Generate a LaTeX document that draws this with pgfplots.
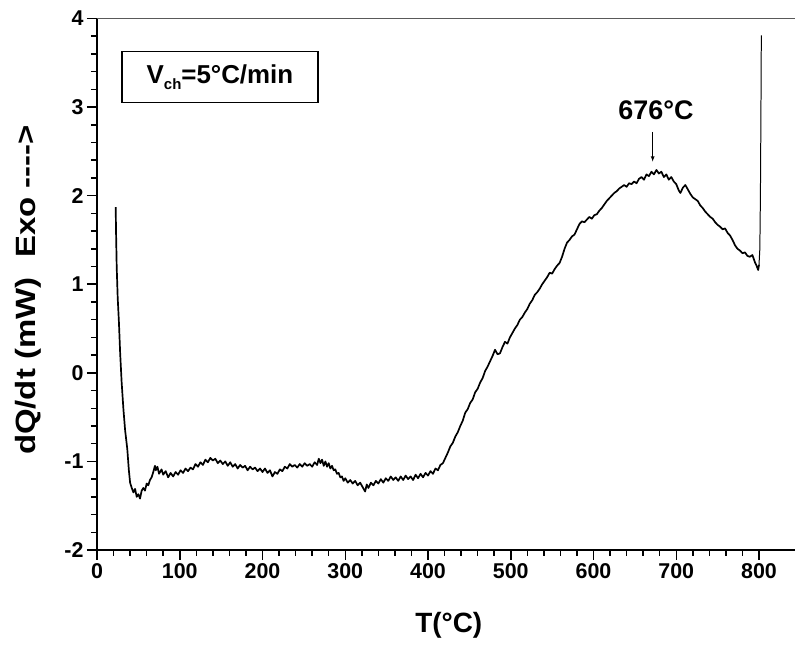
\documentclass[border=0pt]{standalone}
\usepackage{fontspec}
\setmainfont{Liberation Sans}
\usepackage{pgfplots}
\pgfplotsset{compat=1.18}
\begin{document}
\begin{tikzpicture}
\begin{axis}[
  scale only axis, width=698bp, height=531.5bp,
  xmin=0, xmax=843.5, ymin=-2, ymax=4,
  axis x line*=bottom, axis y line*=left,
  every inner x axis line/.append style={-},
  every outer x axis line/.append style={-},
  every inner y axis line/.append style={-},
  every outer y axis line/.append style={-},
  axis line style={line width=1.8bp, black},
  xtick distance=100, ytick distance=1,
  minor x tick num=4, minor y tick num=4,
  tick align=outside,
  major tick length=10bp, minor tick length=6bp,
  every tick/.style={black, line width=1.5bp},
  /pgf/number format/assume math mode=true,
  tick label style={font=\bfseries\fontsize{21.5}{24}\selectfont},
  xlabel={T(°C)},
  xlabel style={font=\bfseries\fontsize{28}{32}\selectfont, at={(axis description cs:0.504,-0.141)}, anchor=center},
  ylabel={\scalebox{1.18}[1]{dQ/dt (mW)\hspace{0.6em}Exo -{}-{}-{}-{}>}},
  ylabel style={font=\bfseries\fontsize{28}{32}\selectfont, at={(axis description cs:-0.099,0.489)}, anchor=center},
  clip=false,
]
\addplot[black, line width=1.7pt, line join=round] coordinates {
(22.6,1.87) (23.0,1.60) (23.8,1.20) (25,0.85) (26.5,0.57) (28,0.22) (29.8,-0.11)
(32,-0.42) (34,-0.65) (36.6,-0.86) (38.5,-1.10) (40,-1.24) (42,-1.30) (44,-1.35)
(46,-1.31) (48,-1.40) (50,-1.37) (52,-1.42) (54,-1.33) (56,-1.30) (58,-1.33)
(60,-1.25) (62,-1.27) (64,-1.21) (66,-1.18) (68,-1.12) (70,-1.05) (71,-1.10)
(73,-1.06) (75,-1.14) (78,-1.09) (80,-1.15) (83,-1.11) (86,-1.18) (89,-1.13)
(92,-1.17) (95,-1.12) (98,-1.15) (101,-1.10) (104,-1.13) (107,-1.08) (110,-1.11)
(113,-1.07) (116,-1.09) (119,-1.03) (122,-1.06) (125,-1.01) (128,-1.04) (131,-0.98)
(134,-1.01) (137,-0.96) (140,-0.99) (143,-0.97) (146,-1.02) (149,-0.99) (152,-1.03)
(155,-1.00) (158,-1.05) (161,-1.01) (164,-1.06) (167,-1.03) (170,-1.08) (173,-1.04)
(176,-1.07) (179,-1.05) (182,-1.10) (185,-1.06) (188,-1.09) (191,-1.07) (194,-1.11)
(197,-1.08) (200,-1.12) (203,-1.08) (206,-1.13) (209,-1.10) (212,-1.17) (215,-1.12)
(218,-1.14) (221,-1.09) (224,-1.11) (227,-1.06) (230,-1.08) (233,-1.03) (236,-1.06)
(239,-1.04) (242,-1.07) (245,-1.03) (248,-1.06) (251,-1.02) (254,-1.05) (257,-1.03)
(260,-1.06) (263,-1.01) (266,-1.04) (268,-0.97) (270,-1.02) (272,-0.98) (274,-1.05)
(276,-1.00) (278,-1.06) (280,-1.02) (282,-1.08) (284,-1.05) (286,-1.10) (288,-1.09)
(290,-1.14) (292,-1.13) (294,-1.18) (296,-1.17) (298,-1.22) (300,-1.19) (303,-1.24)
(306,-1.21) (309,-1.25) (312,-1.22) (315,-1.27) (318,-1.24) (321,-1.29) (324,-1.34)
(326,-1.26) (328,-1.30) (331,-1.24) (334,-1.27) (337,-1.22) (340,-1.25) (343,-1.20)
(346,-1.24) (349,-1.19) (352,-1.22) (355,-1.17) (358,-1.21) (361,-1.18) (364,-1.22)
(367,-1.17) (370,-1.21) (373,-1.16) (376,-1.20) (379,-1.17) (382,-1.21) (385,-1.15)
(388,-1.19) (391,-1.14) (394,-1.18) (397,-1.13) (400,-1.16) (403,-1.11) (406,-1.14)
(409,-1.08) (412,-1.10) (415,-1.04) (418,-1.02) (421,-0.96) (424,-0.90) (427,-0.83)
(430,-0.79) (433,-0.72) (436,-0.67) (439,-0.60) (442,-0.54) (445,-0.45) (448,-0.41)
(451,-0.34) (454,-0.30) (457,-0.22) (460,-0.18) (463,-0.11) (466,-0.06) (469,0.02)
(472,0.07) (475,0.13) (478,0.19) (481,0.26) (484,0.21) (487,0.22) (490,0.29)
(493,0.35) (496,0.33) (499,0.40) (502,0.45) (505,0.50) (508,0.54) (511,0.60)
(514,0.63) (517,0.68) (520,0.72) (523,0.78) (526,0.82) (529,0.88) (532,0.91)
(535,0.95) (538,1.00) (541,1.04) (544,1.08) (547,1.13) (550,1.12) (553,1.17)
(556,1.21) (559,1.24) (562,1.31) (565,1.40) (568,1.47) (571,1.50) (574,1.54)
(577,1.56) (580,1.62) (583,1.68) (586,1.71) (589,1.70) (592,1.73) (595,1.76)
(598,1.74) (601,1.78) (604,1.79) (607,1.83) (610,1.86) (613,1.90) (616,1.94)
(619,1.97) (622,2.00) (625,2.03) (628,2.05) (631,2.08) (634,2.10) (637,2.12)
(640,2.10) (643,2.14) (646,2.13) (649,2.16) (652,2.14) (655,2.19) (658,2.21)
(661,2.18) (664,2.24) (667,2.22) (670,2.27) (673,2.24) (676,2.29) (679,2.25)
(682,2.27) (685,2.21) (688,2.24) (691,2.18) (694,2.21) (697,2.16) (700,2.13)
(703,2.06) (705,2.03) (708,2.09) (711,2.12) (714,2.07) (717,2.02) (720,1.98)
(723,1.96) (726,1.94) (729,1.89) (732,1.86) (735,1.82) (738,1.79) (741,1.76)
(744,1.74) (747,1.70) (750,1.67) (753,1.65) (756,1.62) (759,1.63) (762,1.58)
(765,1.55) (768,1.50) (771,1.44) (774,1.40) (777,1.38) (780,1.35) (783,1.36)
(786,1.32) (789,1.31) (792,1.33) (795,1.25) (797,1.21) (799,1.16) (800,1.22)
};
\addplot[black, line width=1.0pt] coordinates {
(800,1.22) (801,1.40) (801.7,2.00) (802.3,2.90) (802.8,3.81)
};
\draw[gray!70!black, line width=1.2bp] (rel axis cs:0,1) -- (rel axis cs:1,1);
\node[draw=black, line width=1.2bp, minimum width=196bp, minimum height=51bp, inner sep=0pt,
  font=\bfseries\fontsize{26}{30}\selectfont] at (axis cs:148.6,3.335)
  {V\raisebox{-0.45ex}{\fontsize{15}{16}\selectfont ch}=5°C/min};
\node[font=\bfseries\fontsize{27}{30}\selectfont] at (axis cs:675.5,2.96) {676°C};
\draw[-latex, line width=0.8bp] (axis cs:671.5,2.72) -- (axis cs:671.5,2.385);
\end{axis}
\pgfresetboundingbox
\path (current axis.south west) ++(-97bp,-96bp) coordinate (bl);
\path (current axis.north east) ++(0bp,18.5bp) coordinate (tr);
\path[use as bounding box] (bl) rectangle (tr);
\end{tikzpicture}
\end{document}
